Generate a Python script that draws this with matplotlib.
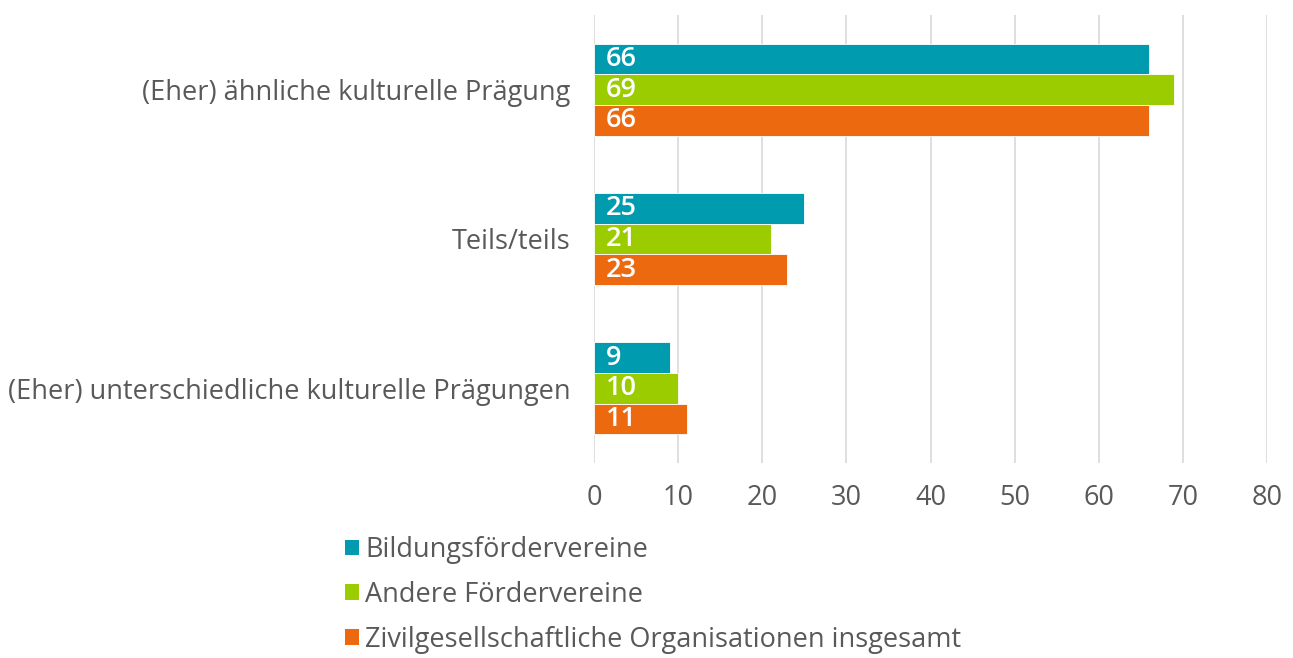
import matplotlib
matplotlib.use("Agg")
import matplotlib.pyplot as plt
from matplotlib.patches import Patch

plt.rcParams['font.family'] = ['Open Sans', 'DejaVu Sans']

categories = ["(Eher) ähnliche kulturelle Prägung", "Teils/teils",
              "(Eher) unterschiedliche kulturelle Prägungen"]
series_names = ["Bildungsfördervereine", "Andere Fördervereine",
                "Zivilgesellschaftliche Organisationen insgesamt"]
bildung = [66, 25, 9]
andere = [69, 21, 10]
insgesamt = [66, 23, 11]
values = [bildung, andere, insgesamt]
colors = ["#009BAF", "#9BCC00", "#EC6910"]
xticks = [0, 10, 20, 30, 40, 50, 60, 70, 80]

text_color = "#595959"
fs = 19.5
W, H = 1293, 658
fig = plt.figure(figsize=(W / 100, H / 100), dpi=100)
ax = fig.add_axes([594 / W, 1 - 463 / H, (1267 - 594) / W, (463 - 15) / H])

bh = 0.205
for i, (vals, col) in enumerate(zip(values, colors)):
    ys = [k + (i - 1) * bh for k in range(len(categories))]
    ax.barh(ys, vals, height=bh, color=col, edgecolor='white', linewidth=0.6, zorder=3)
    for y, v in zip(ys, vals):
        ax.text(1.4, y, str(v), color='white', fontsize=fs, va='center',
                ha='left', fontweight='semibold', zorder=4)

ax.set_xlim(0, 80)
ax.set_ylim(2.5, -0.5)
ax.set_xticks(xticks)
ax.set_xticklabels([str(t) for t in xticks])
ax.set_yticks(range(len(categories)))
ax.set_yticklabels(categories)
ax.tick_params(axis='both', length=0, labelsize=fs, colors=text_color)
ax.tick_params(axis='x', pad=15)
ax.tick_params(axis='y', pad=17)
ax.grid(axis='x', color='#D9D9D9', linewidth=1.2, zorder=0)
for s in ax.spines.values():
    s.set_visible(False)

handles = [Patch(facecolor=c, edgecolor='none') for c in colors]
fig.legend(handles, series_names, loc='upper left',
           bbox_to_anchor=(345 / W, 1 - 536 / H), frameon=False,
           fontsize=fs, labelcolor=text_color, handlelength=0.5,
           handleheight=0.5, handletextpad=0.25, labelspacing=0.62,
           borderaxespad=0, borderpad=0)

fig.savefig("out.png", dpi=100)
